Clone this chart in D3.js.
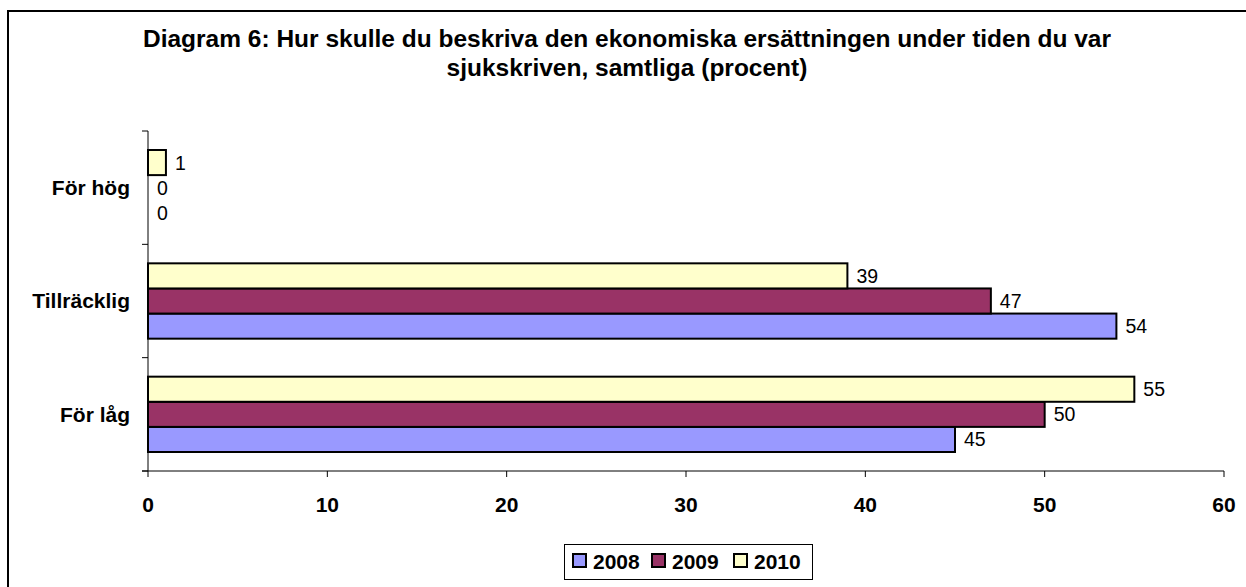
<!DOCTYPE html>
<html><head><meta charset="utf-8">
<script src="https://cdn.jsdelivr.net/npm/d3@7"></script>
<style>html,body{margin:0;padding:0;background:#fff;}svg{display:block;font-family:Arial,"Liberation Sans",sans-serif;}</style>
</head><body>
<svg id="c" width="1246" height="587"></svg>
<script>
const categories = ["För hög", "Tillräcklig", "För låg"];
const seriesNames = ["2008", "2009", "2010"];
const values2008 = [0, 54, 45];
const values2009 = [0, 47, 50];
const values2010 = [1, 39, 55];
const colors = ["#9999FF", "#993366", "#FFFFCC"];
const xTicks = [0, 10, 20, 30, 40, 50, 60];
const titleLines = ["Diagram 6: Hur skulle du beskriva den ekonomiska ersättningen under tiden du var", "sjukskriven, samtliga (procent)"];

const series = [values2008, values2009, values2010];
const svg = d3.select("#c");

svg.append("rect").attr("x", 8).attr("y", 11).attr("width", 1400).attr("height", 800)
  .attr("fill", "#fff").attr("stroke", "#000").attr("stroke-width", 2);

const title = svg.append("text").attr("text-anchor", "middle").attr("font-weight", "bold").attr("font-size", 24.5).attr("fill", "#000");
titleLines.forEach((t, i) => title.append("tspan").attr("x", 627).attr("y", 46.5 + i * 29).text(t));

const x = d3.scaleLinear().domain([0, 60]).range([148, 1224]);
const y = d3.scaleBand().domain(categories).range([131, 471]).padding(0);
const inner = d3.scaleBand().domain(["2010", "2009", "2008"]).range([19, y.bandwidth() - 19]).padding(0);

// axes
svg.append("line").attr("x1", 148).attr("x2", 148).attr("y1", 131).attr("y2", 471).attr("stroke", "#000").attr("stroke-width", 1);
svg.append("line").attr("x1", 142).attr("x2", 1224).attr("y1", 471).attr("y2", 471).attr("stroke", "#000").attr("stroke-width", 1);
const yBounds = categories.map(c => y(c)).concat([y.range()[1]]);
svg.selectAll(".yt").data(yBounds).enter().append("line")
  .attr("x1", 142).attr("x2", 148).attr("y1", d => d).attr("y2", d => d).attr("stroke", "#000");
svg.selectAll(".xt").data(xTicks).enter().append("line")
  .attr("x1", d => x(d)).attr("x2", d => x(d)).attr("y1", 471).attr("y2", 477).attr("stroke", "#000");
svg.selectAll(".xl").data(xTicks).enter().append("text")
  .attr("x", d => x(d)).attr("y", 511.5).attr("text-anchor", "middle").attr("font-weight", "bold").attr("font-size", 21).text(d => d);
svg.selectAll(".yl").data(categories).enter().append("text")
  .attr("x", 130).attr("y", d => y(d) + y.bandwidth() / 2).attr("dy", "0.35em").attr("text-anchor", "end")
  .attr("font-weight", "bold").attr("font-size", 21).text(d => d);

// bars
seriesNames.forEach((s, si) => {
  const g = svg.append("g");
  categories.forEach((c, ci) => {
    const v = series[si][ci];
    const yy = y(c) + inner(s);
    if (v > 0) {
      g.append("rect").attr("x", x(0)).attr("y", yy).attr("width", x(v) - x(0)).attr("height", inner.bandwidth())
        .attr("fill", colors[si]).attr("stroke", "#000").attr("stroke-width", 2);
    }
    g.append("text").attr("x", x(v) + 9).attr("y", yy + inner.bandwidth() / 2).attr("dy", "0.36em")
      .attr("font-size", 19.5).attr("fill", "#000").text(v);
  });
});

// legend
const lg = svg.append("g");
lg.append("rect").attr("x", 564.5).attr("y", 544.5).attr("width", 248).attr("height", 35).attr("fill", "#fff").attr("stroke", "#000").attr("stroke-width", 1);
const lx = [573, 652, 734];
seriesNames.forEach((s, i) => {
  lg.append("rect").attr("x", lx[i]).attr("y", 554).attr("width", 13).attr("height", 13)
    .attr("fill", colors[i]).attr("stroke", "#000").attr("stroke-width", 2);
  lg.append("text").attr("x", lx[i] + 20).attr("y", 568.5).attr("font-weight", "bold").attr("font-size", 21).text(s);
});
</script>
</body></html>
